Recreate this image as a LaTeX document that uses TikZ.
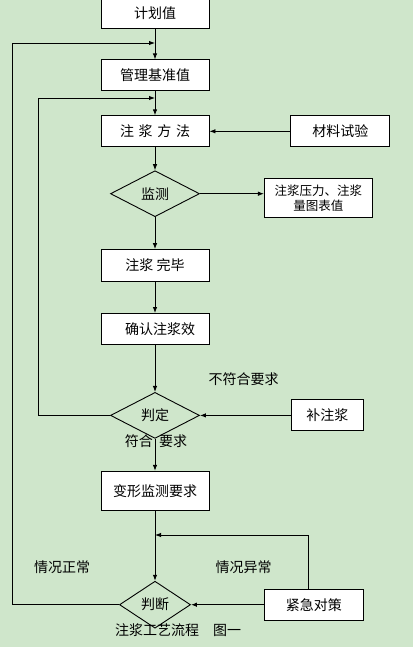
\documentclass[tikz,border=0pt]{standalone}
\usepackage{fontspec}
\setmainfont{Noto Sans CJK SC}
\usepackage{tikz}
\usetikzlibrary{shapes.geometric, arrows.meta, calc, positioning}
\definecolor{paper}{RGB}{207,230,203}
\tikzstyle{block} = [rectangle, line width=0.9pt, minimum width=108pt, minimum height=31pt, inner sep=0pt, text centered, draw=black, fill=white]
\tikzstyle{decision} = [diamond, line width=0.9pt, minimum width=89pt, minimum height=46pt, inner sep=0pt, text centered, draw=black]
\tikzstyle{note} = [inner sep=0pt]
\tikzstyle{arrow} = [line width=0.9pt,-{Latex[length=6pt,width=4.5pt]}]

\begin{document}
\begin{tikzpicture}[x=1pt, y=-1pt, font=\fontsize{14}{16}\selectfont]
	\fill[paper] (0,0) rectangle (413,647);
	\useasboundingbox (0,0) rectangle (413,647);
	\node (Plan) [block, minimum height=30pt] at (155,13) {计划值};
	\node (Base) [block, below = 31pt of Plan] {管理基准值};
	\node (Method) [block, below = 24pt of Base] {注\,\,浆\,\,方\,\,法};
	\node (Test) [block, minimum width=99pt, right = 81pt of Method] {材料试验};
	\node (Monitor) [decision, below = 23pt of Method] {监测};
	\node (Chart) [block, minimum height=39pt, align=center, right = 64pt of Monitor, yshift=-4.5pt, font=\fontsize{12.5}{15}\selectfont] {注浆压力、注浆\\量图表值};
	\node (Done) [block, minimum height=32pt, below = 32pt of Monitor] {注浆 完毕\hspace{10pt}};
	\node (Confirm) [block, below = 31pt of Done] {\hspace{10pt}确认注浆效};
	\node (Judge) [decision, below = 47pt of Confirm] {判定};
	\node (Refill) [block, minimum width=72pt, right = 91pt of Judge] {补注浆};
	\node (Deform) [block, minimum height=39pt, below = 32pt of Judge] {变形监测要求\hspace{10pt}};
	\node (Decide) [decision, minimum width=71pt, minimum height=47pt, below = 70pt of Deform] {判断};
	\node (Emergency) [block, minimum width=99pt, right = 73pt of Decide] {紧急对策};
	\coordinate (LoopOuter) at (12,43);
	\coordinate (LoopInner) at (38,98);
	\coordinate (LoopBack) at (308,535);
	\draw [arrow] (Plan) -- (Base);
	\draw [arrow] (Base) -- (Method);
	\draw [arrow] (Test) -- (Method);
	\draw [arrow] (Method) -- (Monitor);
	\draw [arrow] (Monitor.east) -- (Monitor.east -| Chart.west);
	\draw [arrow] (Monitor) -- (Done);
	\draw [arrow] (Done) -- (Confirm);
	\draw [arrow] (Confirm) -- (Judge);
	\draw [arrow] (Refill) -- (Judge);
	\draw [arrow] (Judge) -- (Deform);
	\draw [arrow] (Deform) -- (Decide);
	\draw [arrow] (Emergency) -- (Decide);
	\draw [arrow] (Judge.west) -| (LoopInner) -- (Base.south |- LoopInner);
	\draw [arrow] (Decide.west) -| (LoopOuter) -- (Plan.south |- LoopOuter);
	\draw [arrow] (Emergency.north -| LoopBack) -- (LoopBack) -- (Deform.south |- LoopBack);
	\node (Fail) [note] at (243.5,379) {不符合要求};
	\node (Pass) [note] at (156,441) {符合\ \ 要求};
	\node (Normal) [note] at (62,567) {情况正常};
	\node (Abnormal) [note] at (243.5,567) {情况异常};
	\node (Caption) [note] at (178,630) {注浆工艺流程　图一};
\end{tikzpicture}
\end{document}
